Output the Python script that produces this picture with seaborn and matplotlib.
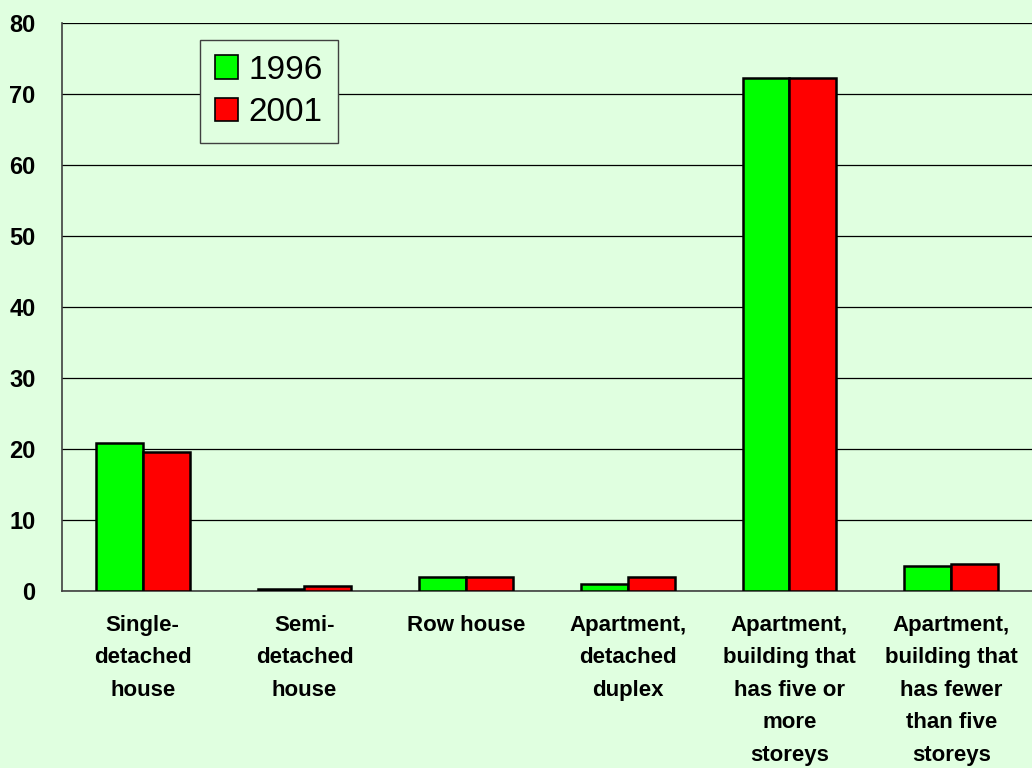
import numpy as np
import pandas as pd
import seaborn as sns
import matplotlib.pyplot as plt
from matplotlib.patches import Patch

# ############### Data ###############
categories = ['Single-\ndetached\nhouse', 'Semi-\ndetached\nhouse', 'Row house',
              'Apartment,\ndetached\nduplex', 'Apartment,\nbuilding that\nhas five or\nmore\nstoreys',
              'Apartment,\nbuilding that\nhas fewer\nthan five\nstoreys']
years = ['1996', '2001']
values_1996 = [20.8, 0.3, 1.9, 1.0, 72.3, 3.5]
values_2001 = [19.6, 0.7, 1.9, 1.9, 72.2, 3.8]
colors = {'1996': '#00FF00', '2001': '#FF0000'}

df = pd.DataFrame({
    'category': categories * 2,
    'year': [years[0]] * len(categories) + [years[1]] * len(categories),
    'value': values_1996 + values_2001,
})

bg = '#E0FFE0'
sns.set_style('white')
plt.rcParams['font.family'] = ['Liberation Sans', 'DejaVu Sans']
plt.rcParams['text.color'] = 'black'
plt.rcParams['xtick.color'] = 'black'
plt.rcParams['ytick.color'] = 'black'

fig = plt.figure(figsize=(10.32, 7.68), dpi=100, facecolor=bg)
ax = fig.add_axes([0.060, 0.2305, 0.940, 0.7395])
ax.set_facecolor(bg)

sns.barplot(data=df, x='category', y='value', hue='year', palette=colors,
            saturation=1, width=0.58, edgecolor='black', linewidth=1.8, ax=ax,
            legend=False, zorder=3)

# ############### Axes styling ###############
ax.set_ylim(0, 80)
ax.set_xlim(-0.5, len(categories) - 0.5)
ax.set_yticks(np.arange(0, 81, 10))
ax.yaxis.grid(True, color='black', linewidth=0.9, zorder=0)
ax.set_axisbelow(True)
for s in ['top', 'right']:
    ax.spines[s].set_visible(False)
for s in ['left', 'bottom']:
    ax.spines[s].set_color('#404040')
    ax.spines[s].set_linewidth(1.2)

ax.tick_params(axis='y', direction='out', length=9, width=1, color='#404040',
               labelsize=17, pad=10)
for lab in ax.get_yticklabels():
    lab.set_fontweight('bold')

ax.set_xticks(range(len(categories)))
ax.set_xticklabels(categories, fontsize=16, fontweight='bold', linespacing=1.72,
                   va='top')
ax.tick_params(axis='x', length=0, pad=17)
ax.set_xticks(np.arange(-0.5, len(categories), 1), minor=True)
ax.tick_params(axis='x', which='minor', direction='out', length=9, width=1,
               color='#404040')
ax.set_xlabel('')
ax.set_ylabel('')

handles = [Patch(facecolor=colors[y], edgecolor='black', linewidth=1.2, label=y) for y in years]
leg = ax.legend(handles=handles, loc='upper left', bbox_to_anchor=(0.1425, 0.971),
                fontsize=24, frameon=True, fancybox=False, handlelength=0.7,
                handleheight=0.7, handletextpad=0.3, labelspacing=0.35,
                borderpad=0.45, borderaxespad=0)
leg.get_frame().set_facecolor(bg)
leg.get_frame().set_edgecolor('#404040')
leg.get_frame().set_linewidth(1.0)
leg.get_frame().set_alpha(1)

plt.savefig('out.png', dpi=100, facecolor=bg)
